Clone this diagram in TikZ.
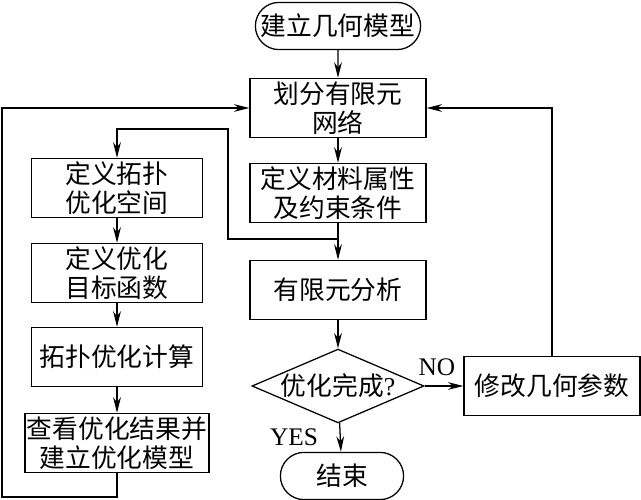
\documentclass[tikz,border=0pt]{standalone}
\usepackage{fontspec}
\setmainfont{Liberation Serif}
\newfontfamily\cjk{Noto Sans CJK SC}
\usetikzlibrary{shapes.geometric,shapes.misc,arrows.meta}
\begin{document}
\begin{tikzpicture}[x=0.025cm,y=-0.025cm,line width=0.9pt,
    font=\cjk\fontsize{18.3}{20.5}\selectfont,
    >={Stealth[length=11pt,width=5.5pt]},
    stepbox/.style={draw,rectangle,align=center,inner sep=1pt,minimum width=4.4cm,minimum height=1.48cm},
    leftbox/.style={stepbox,minimum width=4.28cm},
    termbox/.style={draw,rounded rectangle,inner sep=1pt,minimum height=1.18cm},
    decbox/.style={draw,diamond,aspect=2.3,inner sep=0pt,minimum width=4.3cm,minimum height=1.8cm}]
  \useasboundingbox (0,0) rectangle (641,500);
  % main column
  \node[termbox,minimum width=4.2cm] (start) at (338,26) {建立几何模型};
  \node[stepbox] (mesh) at (338,108) {划分有限元\\网络};
  \node[stepbox] (mat) at (338,193) {定义材料属性\\及约束条件};
  \node[stepbox] (fea) at (338,290) {有限元分析};
  \node[decbox] (dec) at (338,386) {优化完成{\rmfamily ?}};
  \node[termbox,minimum width=3.15cm] (stop) at (342,476) {结束};
  \node[stepbox] (modify) at (552,386) {修改几何参数};
  % left column
  \node[leftbox] (topo) at (117,188) {定义拓扑\\优化空间};
  \node[leftbox] (obj) at (117,273) {定义优化\\目标函数};
  \node[leftbox] (comp) at (117,357) {拓扑优化计算};
  \node[leftbox,minimum width=4.6cm] (view) at (117,443) {查看优化结果并\\建立优化模型};
  % connectors
  \draw[->] (start) -- (mesh);
  \draw[->] (mesh) -- (mat);
  \draw[->] (mat) -- (fea);
  \coordinate (junc) at (338,239);
  \draw[->] (junc) -- (228,239) -- (228,129) -- (117,129) -- (topo);
  \draw[->] (topo) -- (obj);
  \draw[->] (obj) -- (comp);
  \draw[->] (comp) -- (view);
  \draw[->] (view.south) -- (117,497) -- (2,497) -- (2,108) -- (mesh.west);
  \draw[->] (fea) -- (dec);
  \draw[->] (dec) -- (modify);
  \draw[->] (dec) -- (stop);
  \draw[->] (modify.north) -- (552,108) -- (mesh.east);
  \node[font=\rmfamily\fontsize{18}{20}\selectfont] (no) at (437,367) {NO};
  \node[font=\rmfamily\fontsize{18}{20}\selectfont] (yes) at (294,437) {YES};
\end{tikzpicture}
\end{document}
